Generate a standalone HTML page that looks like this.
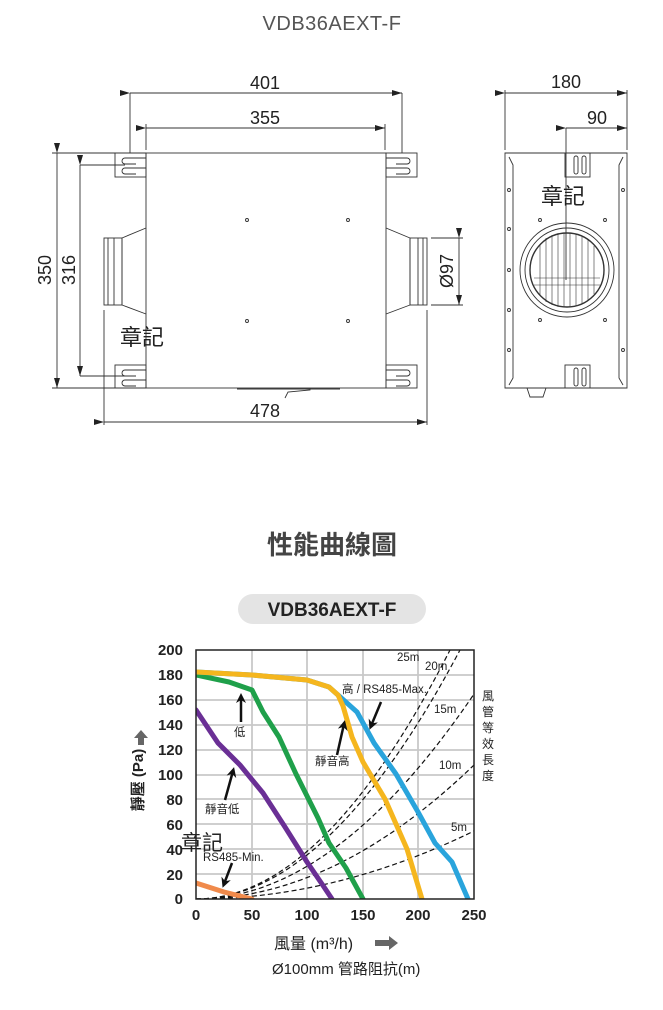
<!DOCTYPE html>
<html><head><meta charset="utf-8"><style>
html,body{margin:0;padding:0;background:#fff;}
svg{display:block;font-family:"Liberation Sans","Noto Sans CJK TC",sans-serif;}
</style></head><body>
<svg width="663" height="1010" viewBox="0 0 663 1010" xmlns="http://www.w3.org/2000/svg">
<defs>
<marker id="ah" markerWidth="10" markerHeight="6" refX="10" refY="3" orient="auto" markerUnits="userSpaceOnUse"><path d="M0,0 L10,3 L0,6 Z" fill="#222"/></marker>
<marker id="ba" markerWidth="10" markerHeight="10" refX="6" refY="5" orient="auto" markerUnits="userSpaceOnUse"><path d="M0,0 L10,5 L0,10 L3,5 Z" fill="#111"/></marker>
<clipPath id="pc"><rect x="196" y="650" width="278" height="249"/></clipPath>
</defs>
<text x="332" y="30" text-anchor="middle" font-size="20" fill="#555" letter-spacing="0.5">VDB36AEXT-F</text>

<g stroke="#333" stroke-width="0.9" fill="none">
<!-- front view -->
<rect x="146" y="153" width="240" height="235" fill="#fff"/>
<g>
<rect x="115" y="153" width="31" height="24"/><rect x="115" y="365" width="31" height="23"/>
<rect x="386" y="153" width="31" height="24"/><rect x="386" y="365" width="31" height="23"/>
<path d="M146,158 H125 a3,3 0 0 0 0,6 H136"/><path d="M146,168 H125 a3,3 0 0 0 0,6 H136"/>
<path d="M146,370 H125 a3,3 0 0 0 0,6 H136"/><path d="M146,380 H125 a3,3 0 0 0 0,6 H136"/>
<path d="M386,158 H407 a3,3 0 0 1 0,6 H396"/><path d="M386,168 H407 a3,3 0 0 1 0,6 H396"/>
<path d="M386,370 H407 a3,3 0 0 1 0,6 H396"/><path d="M386,380 H407 a3,3 0 0 1 0,6 H396"/>
</g>
<path d="M146,228 L122,238 V305 L146,314"/>
<rect x="104" y="238" width="18" height="67"/><line x1="108" y1="238" x2="108" y2="305"/><line x1="114" y1="238" x2="114" y2="305"/>
<path d="M386,228 L410,238 V305 L386,314"/>
<rect x="410" y="238" width="17" height="67"/><line x1="418" y1="238" x2="418" y2="305"/><line x1="423" y1="238" x2="423" y2="305"/>
<circle cx="247" cy="220" r="1.5"/><circle cx="348" cy="220" r="1.5"/><circle cx="247" cy="321" r="1.5"/><circle cx="348" cy="321" r="1.5"/>
<path d="M285,398 L288,392 L310,390 L310,388"/>
<line x1="237" y1="389" x2="340" y2="389"/>
<!-- dims -->
<line x1="130" y1="93" x2="402" y2="93" marker-start="url(#ah)" marker-end="url(#ah)"/>
<line x1="130" y1="93" x2="130" y2="153"/><line x1="402" y1="93" x2="402" y2="153"/>
<line x1="146" y1="128" x2="385" y2="128" marker-start="url(#ah)" marker-end="url(#ah)"/>
<line x1="146" y1="124" x2="146" y2="150"/><line x1="385" y1="124" x2="385" y2="150"/>
<line x1="57" y1="153" x2="57" y2="388" marker-start="url(#ah)" marker-end="url(#ah)"/>
<line x1="52" y1="153" x2="146" y2="153"/><line x1="52" y1="388" x2="146" y2="388"/>
<line x1="80" y1="165" x2="80" y2="376" marker-start="url(#ah)" marker-end="url(#ah)"/>
<line x1="80" y1="165" x2="125" y2="165"/><line x1="80" y1="376" x2="125" y2="376"/>
<line x1="104" y1="422" x2="427" y2="422" marker-start="url(#ah)" marker-end="url(#ah)"/>
<line x1="104" y1="310" x2="104" y2="425"/><line x1="427" y1="310" x2="427" y2="425"/>
<line x1="459" y1="238" x2="459" y2="305" marker-start="url(#ah)" marker-end="url(#ah)"/>
<line x1="431" y1="238" x2="463" y2="238"/><line x1="431" y1="305" x2="463" y2="305"/>
<!-- side view -->
<path d="M505,153 H627 V388 H505 Z" fill="#fff"/>
<path d="M509,157 L513,165 V378 L509,385"/><path d="M623,157 L619,165 V378 L623,385"/>
<rect x="565" y="153" width="25" height="24"/><rect x="565" y="365" width="25" height="23"/>
<rect x="574" y="156" width="4" height="18" rx="2"/><rect x="582" y="156" width="4" height="18" rx="2"/>
<rect x="574" y="368" width="4" height="18" rx="2"/><rect x="582" y="368" width="4" height="18" rx="2"/>
<circle cx="567" cy="270" r="47"/><circle cx="567" cy="270" r="42"/><circle cx="567" cy="270" r="37" stroke-width="1.4"/>
<g stroke-width="0.6"><line x1="540" y1="245" x2="540" y2="295"/><line x1="546" y1="238" x2="546" y2="302"/><line x1="552" y1="235" x2="552" y2="305"/><line x1="558" y1="233" x2="558" y2="307"/><line x1="564" y1="233" x2="564" y2="307"/><line x1="570" y1="233" x2="570" y2="307"/><line x1="576" y1="234" x2="576" y2="306"/><line x1="582" y1="236" x2="582" y2="304"/><line x1="588" y1="240" x2="588" y2="300"/><line x1="594" y1="246" x2="594" y2="294"/><line x1="534" y1="278" x2="600" y2="278"/><line x1="534" y1="285" x2="600" y2="285"/></g>
<circle cx="509" cy="190" r="1.5"/><circle cx="509" cy="229" r="1.5"/><circle cx="509" cy="270" r="1.5"/><circle cx="509" cy="310" r="1.5"/><circle cx="509" cy="350" r="1.5"/>
<circle cx="623" cy="190" r="1.5"/><circle cx="623" cy="350" r="1.5"/>
<circle cx="540" cy="220" r="1.5"/><circle cx="605" cy="220" r="1.5"/><circle cx="540" cy="320" r="1.5"/><circle cx="605" cy="320" r="1.5"/>
<path d="M527,388 L530,397 H543 L546,388"/>
<line x1="505" y1="93" x2="627" y2="93" marker-start="url(#ah)" marker-end="url(#ah)"/>
<line x1="505" y1="90" x2="505" y2="150"/><line x1="627" y1="90" x2="627" y2="150"/>
<line x1="566" y1="128" x2="627" y2="128" marker-start="url(#ah)" marker-end="url(#ah)"/>
<line x1="566" y1="128" x2="566" y2="280"/>
</g>
<g font-size="18" fill="#222" text-anchor="middle">
<text x="265" y="89">401</text><text x="265" y="124">355</text><text x="265" y="417">478</text>
<text x="566" y="88">180</text><text x="597" y="124">90</text>
<text transform="translate(51,270) rotate(-90)">350</text>
<text transform="translate(75,270) rotate(-90)">316</text>
<text transform="translate(453,271) rotate(-90)">Ø97</text>
</g>
<text x="120" y="345" font-size="22" fill="#222">章記</text>
<text x="541" y="204" font-size="22" fill="#222">章記</text>

<text x="332" y="554" text-anchor="middle" font-size="26" font-weight="bold" fill="#444">性能曲線圖</text>
<rect x="238" y="594" width="188" height="30" rx="15" fill="#e4e4e4"/>
<text x="332" y="616" text-anchor="middle" font-size="19" font-weight="bold" fill="#222">VDB36AEXT-F</text>

<!-- chart grid -->
<g stroke="#c8c8c8" stroke-width="1.8">
<line x1="196" y1="675" x2="474" y2="675"/><line x1="196" y1="700" x2="474" y2="700"/><line x1="196" y1="725" x2="474" y2="725"/><line x1="196" y1="750" x2="474" y2="750"/><line x1="196" y1="775" x2="474" y2="775"/><line x1="196" y1="799" x2="474" y2="799"/><line x1="196" y1="824" x2="474" y2="824"/><line x1="196" y1="849" x2="474" y2="849"/><line x1="196" y1="874" x2="474" y2="874"/>
<line x1="252" y1="650" x2="252" y2="899"/><line x1="307" y1="650" x2="307" y2="899"/><line x1="363" y1="650" x2="363" y2="899"/><line x1="418" y1="650" x2="418" y2="899"/>
</g>
<g clip-path="url(#pc)" fill="none" stroke="#111" stroke-width="1.2" stroke-dasharray="5,3">
<path d="M196,899 Q323,899 450,650"/>
<path d="M196,899 Q328,899 460,650"/>
<path d="M196,899 Q335,899 474,694"/>
<path d="M196,899 Q335,899 474,765"/>
<path d="M196,899 Q335,899 474,831"/>
</g>
<g fill="none" stroke-width="5" stroke-linejoin="round" stroke-linecap="round" clip-path="url(#pc)">
<polyline stroke="#f08a4b" points="196,883 224,892 252,899"/>
<polyline stroke="#6a2f95" points="196,710 218,743 240,765 263,793 285,827 307,862 324,887 332,899"/>
<polyline stroke="#1fa04a" points="196,675 229,682 252,690 257,700 263,712 279,737 296,774 318,818 329,843 346,868 363,899"/>
<polyline stroke="#29a4dc" points="196,672 252,675 307,680 329,687 338,695 357,712 374,743 396,774 418,812 435,843 452,862 468,899"/>
<polyline stroke="#f5b61e" points="196,672 252,675 307,680 329,687 338,695 343,706 352,737 363,762 385,799 407,849 422,899"/>
</g>
<rect x="196" y="650" width="278" height="249" fill="none" stroke="#222" stroke-width="1.5"/>
<!-- arrows -->
<g stroke="#111" stroke-width="2.5" fill="none" marker-end="url(#ba)">
<line x1="241" y1="722" x2="241" y2="697"/>
<line x1="337" y1="755" x2="344" y2="724"/>
<line x1="381" y1="702" x2="371" y2="726"/>
<line x1="225" y1="800" x2="233" y2="771"/>
<line x1="232" y1="863" x2="224" y2="884"/>
</g>
<g font-size="15" font-weight="bold" fill="#222" text-anchor="end">
<text x="183" y="655">200</text><text x="183" y="680">180</text><text x="183" y="705">160</text><text x="183" y="730">140</text><text x="183" y="755">120</text><text x="183" y="780">100</text><text x="183" y="805">80</text><text x="183" y="830">60</text><text x="183" y="855">40</text><text x="183" y="880">20</text><text x="183" y="904">0</text>
</g>
<g font-size="15" font-weight="bold" fill="#222" text-anchor="middle">
<text x="196" y="920">0</text><text x="252" y="920">50</text><text x="307" y="920">100</text><text x="363" y="920">150</text><text x="418" y="920">200</text><text x="474" y="920">250</text>
</g>
<g font-size="11.5" fill="#222">
<text x="397" y="661">25m</text><text x="425" y="670">20m</text>
<text x="342" y="693">高 / RS485-Max.</text>
<text x="434" y="713">15m</text><text x="439" y="769">10m</text><text x="451" y="831">5m</text>
<text x="234" y="736">低</text><text x="315" y="765">靜音高</text><text x="205" y="813">靜音低</text>
<text x="203" y="861">RS485-Min.</text>
</g>
<g font-size="12" fill="#222" text-anchor="middle">
<text x="488" y="700">風</text><text x="488" y="716">管</text><text x="488" y="732">等</text><text x="488" y="748">效</text><text x="488" y="764">長</text><text x="488" y="780">度</text>
</g>
<text x="181" y="850" font-size="21" fill="#222">章記</text>
<g transform="translate(143,780) rotate(-90)">
<text x="0" y="0" text-anchor="middle" font-size="15" font-weight="bold" fill="#222">靜壓 (Pa)</text>
</g>
<path d="M138,745 V738 H134 L141,730 L148,738 H144 V745 Z" fill="#666"/>
<text x="274" y="949" font-size="16" fill="#222">風量 (m³/h)</text>
<path d="M375,940 H389 V936 L398,943 L389,950 V946 H375 Z" fill="#666"/>
<text x="272" y="974" font-size="15" fill="#222">Ø100mm 管路阻抗(m)</text>
</svg>
</body></html>
